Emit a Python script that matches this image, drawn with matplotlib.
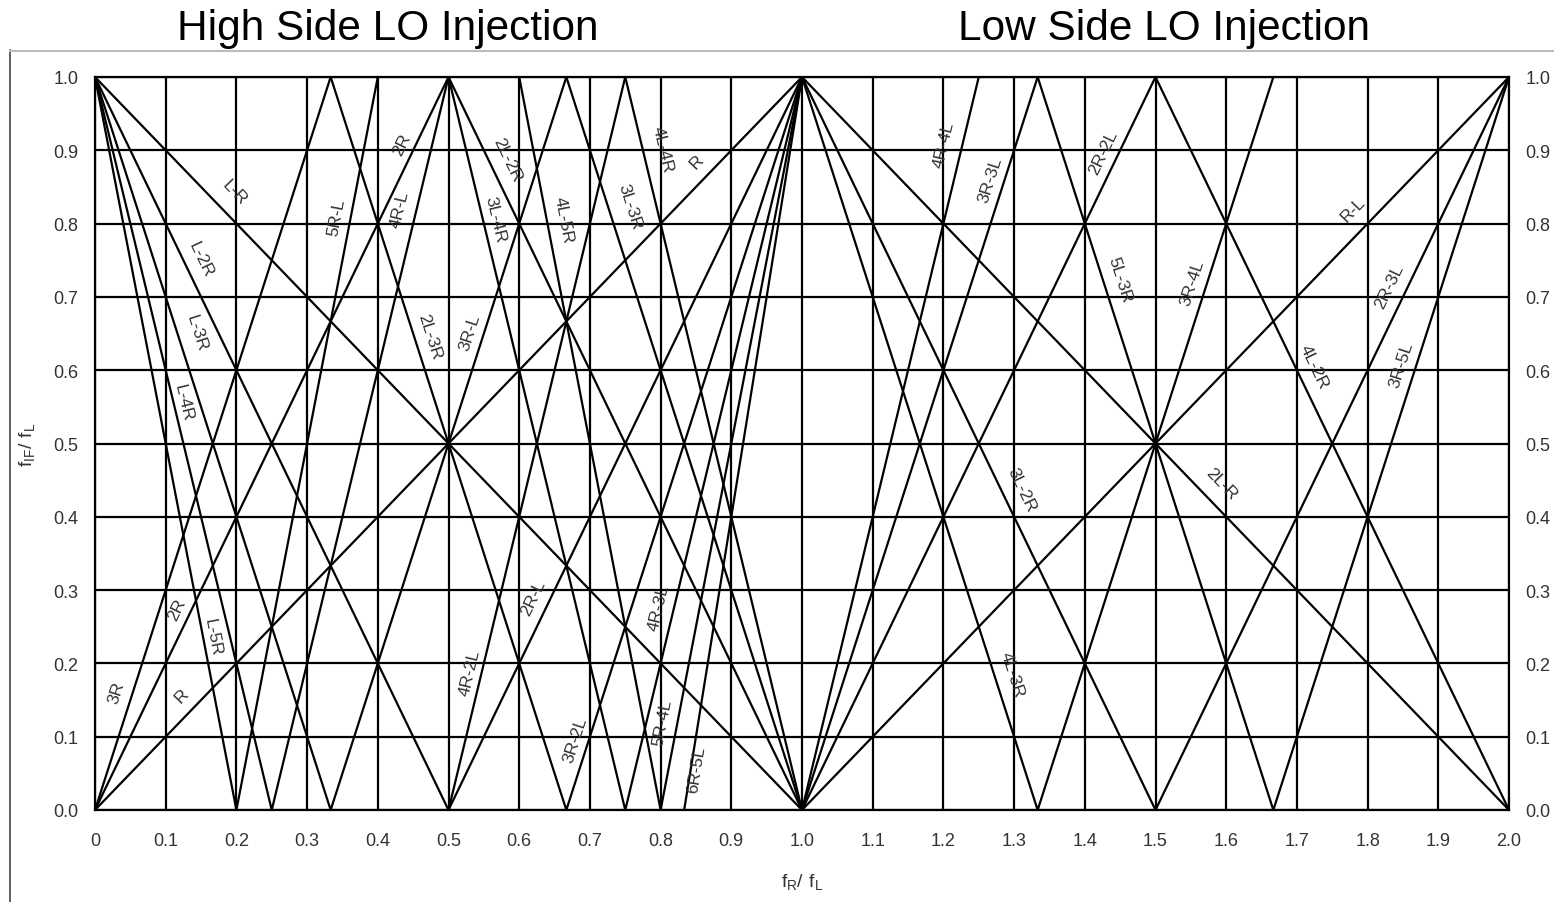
import numpy as np
import matplotlib
matplotlib.use("Agg")
import matplotlib.pyplot as plt
from matplotlib.lines import Line2D

plt.rcParams['font.family'] = ['Liberation Sans', 'DejaVu Sans']
plt.rcParams['mathtext.default'] = 'regular'

# spur lines: f_IF/f_L = |m*(fR/fL) - n| drawn between x_start and x_end
line_m = [1, 2, 3, 1, 2, 3, 4, 5, 2, 3, 4, 5, 3, 4, 4, 6,          # high side
          1, 2, 3, 4, 1, 2, 3, 3, 2]                                  # low side
line_n = [0, 0, 0, 1, 1, 1, 1, 1, 2, 2, 3, 4, 3, 4, 2, 5,
          1, 2, 3, 4, 2, 3, 4, 5, 4]
line_x_start = [0, 0, 0, 0, 0, 0, 0, 0, 0.5, 1/3, 0.5, 0.6, 2/3, 0.75, 0.5, 5/6,
                1, 1, 1, 1, 1, 1, 1, 4/3, 1.5]
line_x_end = [1, 0.5, 1/3, 1, 1, 2/3, 0.5, 0.4, 1, 1, 1, 1, 1, 1, 0.75, 1,
              2, 1.5, 4/3, 1.25, 2, 2, 5/3, 2, 2]

# line labels: text, the line it belongs to (m, n), and where it sits
label_text = ['L-R', 'L-2R', 'L-3R', 'L-4R', '5R-L', '2R', '4R-L', '2L-3R', '3R-L',
              '2L-2R', '3L-4R', '4L-5R', '3L-3R', '4L-4R', 'R', '3R', '2R', 'R',
              'L-5R', '4R-2L', '2R-L', '3R-2L', '4R-3L', '5R-4L', '6R-5L',
              '4R-4L', '3R-3L', '2R-2L', '5L-3R', '3R-4L', 'R-L', '2R-3L', '4L-2R',
              '3R-5L', '3L-2R', '2L-R', '4L-3R']
label_m = [1, 2, 3, 4, 5, 2, 4, 3, 3, 2, 4, 5, 3, 4, 1, 3, 2, 1, 5, 4, 2, 3, 4, 5, 6,
           4, 3, 2, 3, 3, 1, 2, 2, 3, 2, 1, 3]
label_n = [1, 1, 1, 1, 1, 0, 1, 2, 1, 2, 3, 4, 3, 4, 0, 0, 0, 0, 1, 2, 1, 2, 3, 4, 5,
           4, 3, 2, 5, 4, 1, 3, 4, 5, 3, 2, 4]
label_x = [0.198, 0.149, 0.144, 0.125, 0.342, 0.434, 0.431, 0.474, 0.530,
           0.583, 0.566, 0.662, 0.757, 0.803, 0.851, 0.031, 0.116, 0.123,
           0.167, 0.530, 0.620, 0.679, 0.797, 0.802, 0.851,
           1.201, 1.266, 1.426, 1.450, 1.552, 1.779, 1.830, 1.724,
           1.847, 1.310, 1.593, 1.297]
label_y = [0.843, 0.752, 0.652, 0.557, 0.810, 0.909, 0.820, 0.647, 0.652,
           0.888, 0.806, 0.806, 0.824, 0.902, 0.885, 0.161, 0.274, 0.156,
           0.237, 0.188, 0.290, 0.097, 0.277, 0.120, 0.056,
           0.909, 0.861, 0.898, 0.724, 0.720, 0.820, 0.715, 0.606,
           0.608, 0.438, 0.445, 0.186]

x_ticks = np.round(np.arange(0, 2.001, 0.1), 1)
x_ticklabels = ['0'] + ['%.1f' % v for v in x_ticks[1:]]
y_ticks = np.round(np.arange(0, 1.001, 0.1), 1)

W, H = 1554, 903
fig = plt.figure(figsize=(W / 100, H / 100), dpi=100)
ax = fig.add_axes([95 / W, (H - 811) / H, 1414 / W, 733 / H])
ax.set_xlim(0, 2)
ax.set_ylim(0, 1)

lw = 1.6
for m, n, x0, x1 in zip(line_m, line_n, line_x_start, line_x_end):
    xs = [x0, x1]
    if x0 < n / m < x1:
        xs = [x0, n / m, x1]
    xs = np.array(xs)
    ax.plot(xs, np.abs(m * xs - n), color='black', lw=lw, solid_capstyle='butt')

for s, m, n, x, y in zip(label_text, label_m, label_n, label_x, label_y):
    slope = m if m * x - n > 0 else -m
    ax.text(x, y, s, fontsize=12.5, color='#333333', ha='center', va='center',
            rotation=np.degrees(np.arctan(slope)), rotation_mode='anchor',
            transform_rotates_text=True)

ax.set_xticks(x_ticks)
ax.set_xticklabels(x_ticklabels)
ax.set_yticks(y_ticks)
ax.set_yticklabels(['%.1f' % v for v in y_ticks])
ax.grid(True, color='black', lw=lw)
ax.tick_params(axis='x', length=0, pad=16, labelsize=13, labelcolor='#333333')
ax.tick_params(axis='y', length=0, pad=12, labelsize=13, labelcolor='#333333',
               labelright=True)
for sp in ax.spines.values():
    sp.set_color('black')
    sp.set_linewidth(lw)

ax.set_xlabel(r'$f_R/\ f_L$', fontsize=14, color='#333333', labelpad=16)
ax.set_ylabel(r'$f_{IF}/\ f_L$', fontsize=14, color='#333333', labelpad=12)

fig.text(387.5 / W, 1 - 29 / H, 'High Side LO Injection', fontsize=30.5,
         ha='center', va='center')
fig.text(1164 / W, 1 - 29 / H, 'Low Side LO Injection', fontsize=30.5,
         ha='center', va='center')

# outer frame of the original picture
fig.add_artist(Line2D([10 / W, 10 / W], [0, 1 - 51 / H], color='#444444', lw=1.2,
                      transform=fig.transFigure))
fig.add_artist(Line2D([10 / W, 1], [1 - 52 / H, 1 - 52 / H], color='#bbbbbb', lw=1.5,
                      transform=fig.transFigure))

fig.savefig('out.png', dpi=100)
